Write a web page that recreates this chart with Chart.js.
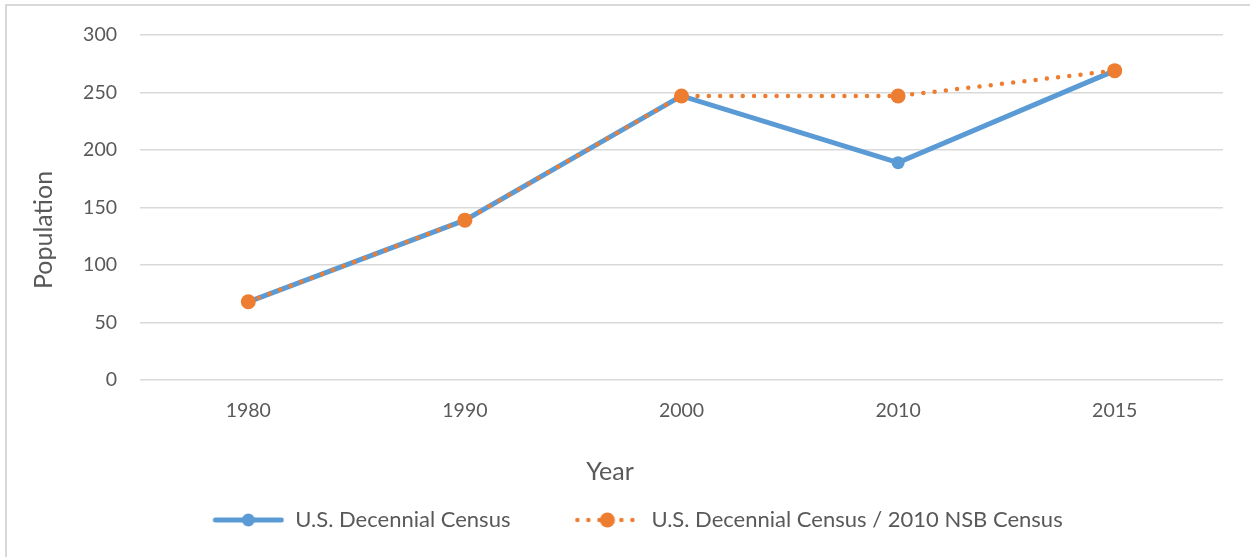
<!DOCTYPE html>
<html>
<head>
<meta charset="utf-8">
<script src="https://cdn.jsdelivr.net/npm/chart.js@4.4.0/dist/chart.umd.min.js"></script>
<style>
  body { margin: 0; background: #fff; }
  #wrap { position: relative; width: 1250px; height: 557px; overflow: hidden; }
  #frame { position: absolute; left: 5px; top: 4px; width: 1300px; height: 600px;
           border-left: 2px solid #d9d9d9; border-top: 2px solid #d9d9d9; }
  #chart { position: absolute; left: 0; top: 0; }
</style>
</head>
<body>
<div id="wrap">
  <div id="frame"></div>
  <canvas id="chart" width="1250" height="557"></canvas>
</div>
<script>
  // data
  const years = ['1980', '1990', '2000', '2010', '2015'];
  const census = [68, 139, 247, 189, 269];
  const census_nsb = [68, 139, 247, 247, 269];
  const series_names = ['U.S. Decennial Census', 'U.S. Decennial Census / 2010 NSB Census'];
  const x_title = 'Year';
  const y_title = 'Population';

  const BLUE = '#5B9BD5';
  const ORANGE = '#ED7D31';
  const TEXT = '#595959';
  const FONT = 'Lato';

  // legend symbols: line + marker, blank on the left for item spacing
  function legendSymbol(color, dotted, lineLen) {
    var c = document.createElement('canvas');
    c.width = 120;
    c.height = 16;
    var ctx = c.getContext('2d');
    var x0 = 120 - lineLen;
    ctx.strokeStyle = color;
    ctx.fillStyle = color;
    ctx.lineCap = 'round';
    if (dotted) {
      ctx.lineWidth = 4.5;
      ctx.setLineDash([0, 11]);
    } else {
      ctx.lineWidth = 5;
    }
    ctx.beginPath();
    ctx.moveTo(x0 + 3, 8);
    ctx.lineTo(120 - 3, 8);
    ctx.stroke();
    ctx.beginPath();
    ctx.arc(x0 + lineLen / 2, 8, dotted ? 7.5 : 6.5, 0, Math.PI * 2);
    ctx.fill();
    return c;
  }
  const symbols = [legendSymbol(BLUE, false, 72), legendSymbol(ORANGE, true, 66)];

  // Excel puts the axis titles off the plot centre, so draw them by hand
  const axisTitles = {
    id: 'axisTitles',
    afterDraw: function (ch) {
      var c = ch.ctx;
      c.save();
      c.fillStyle = TEXT;
      c.font = '25px ' + FONT;
      c.textAlign = 'center';
      c.textBaseline = 'middle';
      c.fillText(x_title, 610, 472);
      c.translate(44, 230);
      c.rotate(-Math.PI / 2);
      c.fillText(y_title, 0, 0);
      c.restore();
    }
  };

  var ctx = document.getElementById('chart').getContext('2d');
  var chart = new Chart(ctx, {
    type: 'line',
    data: {
      labels: years,
      datasets: [
        {
          label: series_names[0],
          data: census,
          borderColor: BLUE,
          backgroundColor: BLUE,
          borderWidth: 5,
          pointRadius: 6.5,
          pointBorderWidth: 0,
          pointStyle: 'circle',
          order: 2,
        },
        {
          label: series_names[1],
          data: census_nsb,
          borderColor: ORANGE,
          backgroundColor: ORANGE,
          borderWidth: 4.5,
          borderDash: [0, 11.3],
          borderCapStyle: 'round',
          pointRadius: 7.5,
          pointBorderWidth: 0,
          order: 1,
        }
      ]
    },
    options: {
      responsive: false,
      animation: false,
      layout: { padding: { left: 4, right: 27, top: 35, bottom: 16 } },
      plugins: {
        tooltip: { enabled: false },
        legend: {
          position: 'bottom',
          labels: {
            usePointStyle: true,
            pointStyleWidth: 120,
            padding: 10,
            color: TEXT,
            font: { family: FONT, size: 22 },
            generateLabels: function (ch) {
              return ch.data.datasets.map(function (ds, i) {
                return {
                  text: ds.label,
                  pointStyle: symbols[i],
                  fillStyle: ds.borderColor,
                  strokeStyle: ds.borderColor,
                  lineWidth: 0,
                  fontColor: TEXT,
                  datasetIndex: i,
                  hidden: false,
                };
              });
            }
          }
        }
      },
      scales: {
        x: {
          offset: true,
          grid: { display: false, drawTicks: false },
          border: { display: false },
          ticks: { color: TEXT, padding: 19, font: { family: FONT, size: 19.5 } },
          afterFit: function (scale) { scale.height = 119; }
        },
        y: {
          min: 0,
          max: 300,
          grid: { color: '#d9d9d9', lineWidth: 1.5, drawTicks: false },
          border: { display: false },
          ticks: { stepSize: 50, color: TEXT, padding: 23, font: { family: FONT, size: 19.5 } },
          afterFit: function (scale) { scale.width = 136; }
        }
      }
    },
    plugins: [axisTitles]
  });
</script>
</body>
</html>
